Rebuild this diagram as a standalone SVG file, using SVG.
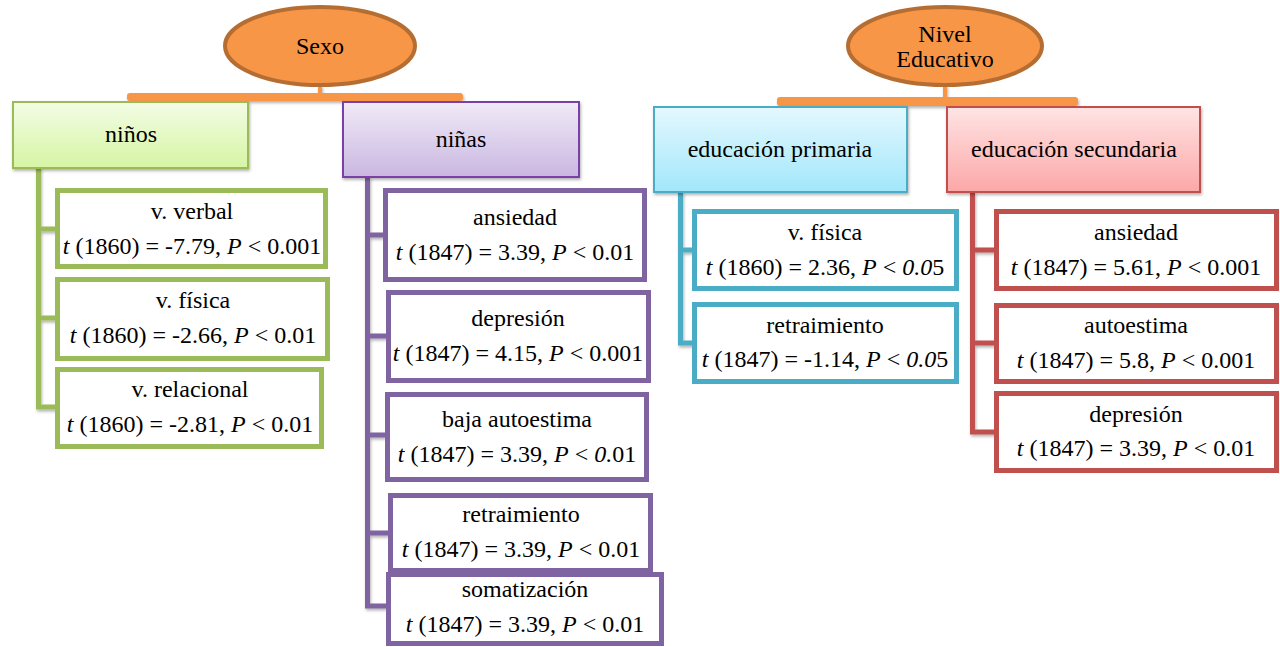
<svg xmlns="http://www.w3.org/2000/svg" width="1280" height="647" viewBox="0 0 1280 647" font-family="Liberation Serif, Tinos, DejaVu Serif, serif">
<defs>
<style>
text{font-family:'Liberation Serif',Tinos,'DejaVu Serif',serif;font-size:24px;fill:#000;text-anchor:middle}
.i{font-style:italic}
.child{fill:#fff;stroke-width:5}
.g{stroke:#9BBB59}.p{stroke:#8064A2}.b{stroke:#4BACC6}.r{stroke:#C0504D}
.conn{fill:none;stroke-width:5;stroke-linejoin:miter;stroke-linecap:butt}
.oval{fill:#F79646;stroke:#B66D31;stroke-width:4}
.bar{fill:#F79646}
</style>
<linearGradient id="gG" x1="0" y1="0" x2="0" y2="1"><stop offset="0" stop-color="#F3FCE5"/><stop offset="1" stop-color="#D6F5A4"/></linearGradient>
<linearGradient id="gP" x1="0" y1="0" x2="0" y2="1"><stop offset="0" stop-color="#F0EAF7"/><stop offset="1" stop-color="#CAB7E1"/></linearGradient>
<linearGradient id="gB" x1="0" y1="0" x2="0" y2="1"><stop offset="0" stop-color="#E4F8FE"/><stop offset="1" stop-color="#A2E7FB"/></linearGradient>
<linearGradient id="gR" x1="0" y1="0" x2="0" y2="1"><stop offset="0" stop-color="#FFE4E4"/><stop offset="1" stop-color="#FCA7A7"/></linearGradient>
<filter id="sh" x="-10%" y="-10%" width="130%" height="140%"><feDropShadow dx="1" dy="2" stdDeviation="1.5" flood-color="#000" flood-opacity="0.3"/></filter>
</defs>

<g id="connectors" filter="url(#sh)">
<rect class="bar" x="127" y="93" width="336" height="8" rx="3"/>
<line x1="320" y1="85" x2="320" y2="98" stroke="#F79646" stroke-width="4"/>
<rect class="bar" x="777" y="97" width="301" height="9" rx="3"/>
<line x1="945" y1="85" x2="945" y2="100" stroke="#F79646" stroke-width="4"/>
<path class="conn g" d="M38.5 168 V407 H57 M38.5 229 H57 M38.5 318 H57"/>
<path class="conn p" d="M367.5 177 V606 H386 M367.5 235 H383 M367.5 336 H386 M367.5 435 H385 M367.5 533 H388"/>
<path class="conn b" d="M680.5 192 V343 H693 M680.5 250 H693"/>
<path class="conn r" d="M972.5 192 V432 H995 M972.5 250 H995 M972.5 343 H995"/>
</g>

<g id="sexo">
<ellipse class="oval" cx="320" cy="46" rx="95" ry="39"/>
<text x="320" y="54">Sexo</text>
</g>
<g id="nivel">
<ellipse class="oval" cx="945" cy="46" rx="97" ry="39"/>
<text x="945" y="42">Nivel</text>
<text x="945" y="67">Educativo</text>
</g>

<g id="ninos">
<rect x="13" y="102" width="235" height="66" fill="url(#gG)" stroke="#9BBB59" stroke-width="2" filter="url(#sh)"/>
<text x="131" y="142">niños</text>
</g>
<g id="ninas">
<rect x="343" y="102" width="236" height="75" fill="url(#gP)" stroke="#7A3FA8" stroke-width="2" filter="url(#sh)"/>
<text x="461" y="147">niñas</text>
</g>
<g id="primaria">
<rect x="654" y="107" width="253" height="85" fill="url(#gB)" stroke="#4BACC6" stroke-width="2" filter="url(#sh)"/>
<text x="780" y="157">educación primaria</text>
</g>
<g id="secundaria">
<rect x="947" y="107" width="253" height="85" fill="url(#gR)" stroke="#C0504D" stroke-width="2" filter="url(#sh)"/>
<text x="1074" y="157">educación secundaria</text>
</g>

<g id="ninos-verbal">
<rect class="child g" x="57.5" y="190.5" width="268" height="76"/>
<text x="192" y="219">v. verbal</text>
<text x="192" y="254"><tspan class="i">t</tspan> (1860) = -7.79, <tspan class="i">P</tspan> &lt; 0.001</text>
</g>
<g id="ninos-fisica">
<rect class="child g" x="57.5" y="279.5" width="270" height="79"/>
<text x="193" y="308">v. física</text>
<text x="193" y="343"><tspan class="i">t</tspan> (1860) = -2.66, <tspan class="i">P</tspan> &lt; 0.01</text>
</g>
<g id="ninos-relacional">
<rect class="child g" x="57.5" y="369.5" width="264" height="77"/>
<text x="190" y="397">v. relacional</text>
<text x="190" y="432"><tspan class="i">t</tspan> (1860) = -2.81, <tspan class="i">P</tspan> &lt; 0.01</text>
</g>

<g id="ninas-ansiedad">
<rect class="child p" x="385.5" y="190.5" width="259" height="89"/>
<text x="515" y="225">ansiedad</text>
<text x="515" y="260"><tspan class="i">t</tspan> (1847) = 3.39, <tspan class="i">P</tspan> &lt; 0.01</text>
</g>
<g id="ninas-depresion">
<rect class="child p" x="388.5" y="292.5" width="260" height="88"/>
<text x="518" y="326">depresión</text>
<text x="518" y="361"><tspan class="i">t</tspan> (1847) = 4.15, <tspan class="i">P</tspan> &lt; 0.001</text>
</g>
<g id="ninas-baja">
<rect class="child p" x="387.5" y="394.5" width="259" height="85"/>
<text x="517" y="427">baja autoestima</text>
<text x="517" y="462"><tspan class="i">t</tspan> (1847) = 3.39, <tspan class="i">P</tspan> &lt; <tspan class="i">0.</tspan>01</text>
</g>
<g id="ninas-retraimiento">
<rect class="child p" x="390.5" y="495.5" width="260" height="75"/>
<text x="521" y="522">retraimiento</text>
<text x="521" y="557"><tspan class="i">t</tspan> (1847) = 3.39, <tspan class="i">P</tspan> &lt; 0.01</text>
</g>
<g id="ninas-somatizacion">
<rect class="child p" x="388.5" y="574.5" width="273" height="69"/>
<text x="525" y="597">somatización</text>
<text x="525" y="632"><tspan class="i">t</tspan> (1847) = 3.39, <tspan class="i">P</tspan> &lt; 0.01</text>
</g>

<g id="primaria-fisica">
<rect class="child b" x="694.5" y="211.5" width="262" height="77"/>
<text x="825" y="240">v. física</text>
<text x="825" y="275"><tspan class="i">t</tspan> (1860) = 2.36, <tspan class="i">P</tspan> &lt; <tspan class="i">0.0</tspan>5</text>
</g>
<g id="primaria-retraimiento">
<rect class="child b" x="694.5" y="304.5" width="262" height="77"/>
<text x="825" y="333">retraimiento</text>
<text x="825" y="367"><tspan class="i">t</tspan> (1847) = -1.14, <tspan class="i">P</tspan> &lt; <tspan class="i">0.0</tspan>5</text>
</g>

<g id="secundaria-ansiedad">
<rect class="child r" x="996.5" y="211.5" width="280" height="77"/>
<text x="1136" y="240">ansiedad</text>
<text x="1136" y="275"><tspan class="i">t</tspan> (1847) = 5.61, <tspan class="i">P</tspan> &lt; 0.001</text>
</g>
<g id="secundaria-autoestima">
<rect class="child r" x="996.5" y="305.5" width="280" height="76"/>
<text x="1136" y="333">autoestima</text>
<text x="1136" y="368"><tspan class="i">t</tspan> (1847) = 5.8, <tspan class="i">P</tspan> &lt; 0.001</text>
</g>
<g id="secundaria-depresion">
<rect class="child r" x="996.5" y="393.5" width="280" height="77"/>
<text x="1136" y="422">depresión</text>
<text x="1136" y="456"><tspan class="i">t</tspan> (1847) = 3.39, <tspan class="i">P</tspan> &lt; 0.01</text>
</g>
</svg>
